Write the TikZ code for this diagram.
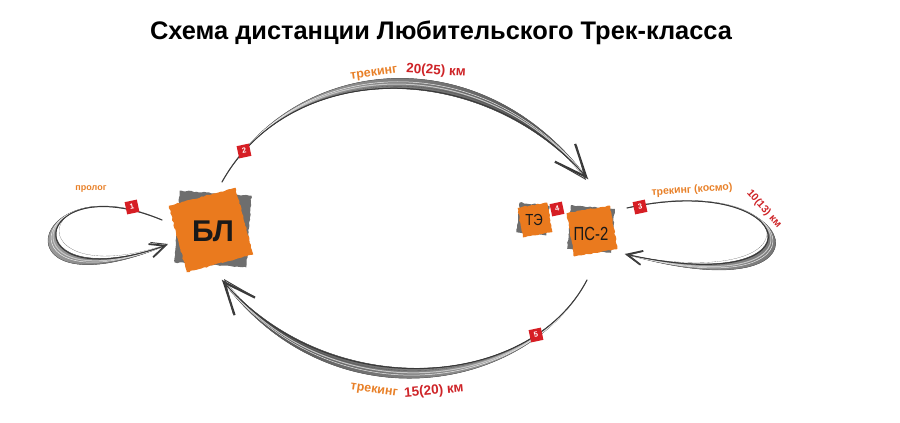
\documentclass[tikz,border=0pt]{standalone}
\usepackage{fontspec}
\setmainfont{Liberation Sans}
\usepackage{xcolor}
\definecolor{orange}{RGB}{234,122,30}
\definecolor{lblorange}{RGB}{232,128,40}
\definecolor{darkred}{RGB}{206,36,40}
\definecolor{pinred}{RGB}{214,30,36}
\definecolor{backgray}{RGB}{110,110,110}
\usepackage{tikz}
\usetikzlibrary{positioning,calc}
\usetikzlibrary{arrows.meta,decorations.pathmorphing}
\tikzset{
  torn/.style    ={ rectangle, inner sep=0pt, decorate,
                    decoration={random steps,segment length=2.5pt,amplitude=0.6pt} },
  paper/.style   ={ torn, fill=orange },
  backing/.style ={ torn, fill=backgray },
  base/.style    ={ font=\fontsize{#1}{#1}\selectfont, text=black!90 },
  pin/.style     ={ rectangle, fill=pinred, text=white, font=\bfseries\fontsize{7.5}{7.5}\selectfont,
                    minimum size=12.5pt, inner sep=0pt, rotate=12 },
  trek/.style    ={ font=\bfseries\fontsize{#1}{#1}\selectfont, text=lblorange },
  dist/.style    ={ font=\bfseries\fontsize{#1}{#1}\selectfont, text=darkred },
%
  body/.style={draw=black!60, line width=0.4pt},
  brB/.style={draw=black!78, line width=1pt, line cap=round},
  brC/.style={draw=black!22, line width=1pt, line cap=round},
  brD/.style={draw=white, line width=0.5pt, opacity=0.85},
  barb/.style={draw=black!75, line width=0.1pt},
%
  bigtip/.style={-{Straight Barb[length=32pt,width=27pt,line width=#1]}},
  smalltip/.style={-{Straight Barb[length=15pt,width=14pt,line width=#1]}}
}
\pgfmathsetseed{7}

\begin{document}
\begin{tikzpicture}[x=1pt,y=-1pt]
\useasboundingbox (0,0) rectangle (900,423);

\node[font=\bfseries\fontsize{25.4}{25.4}\selectfont] (title) at (441,33) {Схема дистанции Любительского Трек-класса};

% checkpoints
\node[backing,minimum size=72pt,rotate=-4] (BLback) at (213,229) {};
\node[paper,  minimum size=69pt,rotate=15] (BLsq)   at (211,230) {};
\node[base=30,font=\bfseries\fontsize{30}{30}\selectfont] (BL) at (213,231) {БЛ};

\node[backing,minimum size=44pt,rotate=-5] (PSback) at (591,229) {};
\node[paper,  minimum size=44pt,rotate=10] (PSsq)   at (592,231) {};
\node[base=19] (PS) at (591,234) {\scalebox{0.78}[1]{ПС-2}};

\node[backing,minimum size=30pt,rotate=-6] (TEback) at (533,219) {};
\node[paper,  minimum size=30pt,rotate=10] (TEsq)   at (535,220) {};
\node[base=16] (TE) at (534,220) {\scalebox{0.82}[1]{ТЭ}};

% arc ends
\coordinate (s1) at (162,220);
\coordinate (e1) at (167,245);
\coordinate (s2) at (222,182);
\coordinate (e2) at (588,179);
\coordinate (s3) at (627,208);
\coordinate (e3) at (625,254);
\coordinate (s5) at (587,280);
\coordinate (e5) at (222,280);

% prolog loop
\fill[body,left color=black!30,right color=black!60]
  (s1) .. controls +(-132,-55) and +(-157,55) .. (e1)
       .. controls +(-175,73) and +(-135,-60) .. (s1) -- cycle;
\draw[brC] (s1) .. controls +(-133,-57) and +(-164,62) .. (e1);
\draw[brD] (s1) .. controls +(-134,-58) and +(-168,66) .. (e1);
\draw[brB,smalltip=1.8pt] (s1) .. controls +(-132,-55) and +(-157,55) .. (e1);
\draw[barb,smalltip=1pt] (s1) .. controls +(-132,-55) and +(-150,50) .. ([shift={(1,-1)}]e1);

% trekking 20(25)
\fill[body,left color=black!30,right color=black!72]
  (s2) .. controls +(68,-122) and +(-108,-123) .. (e2)
       .. controls +(-108,-145) and +(71,-127) .. (s2) -- cycle;
\draw[brC] (s2) .. controls +(69,-124) and +(-108,-133) .. (e2);
\draw[brD] (s2) .. controls +(70,-125) and +(-108,-138) .. (e2);
\draw[brB,bigtip=2.2pt] (s2) .. controls +(68,-122) and +(-108,-123) .. (e2);
\draw[barb,bigtip=1pt]  (s2) .. controls +(68,-122) and +(-100,-130) .. ([shift={(-2,1)}]e2);

% trekking (kosmo)
\fill[body,left color=black!35,right color=black!62]
  (s3) .. controls +(173,-38) and +(205,46) .. (e3)
       .. controls +(222,64) and +(176,-42) .. (s3) -- cycle;
\draw[brC] (s3) .. controls +(174,-40) and +(212,54) .. (e3);
\draw[brD] (s3) .. controls +(175,-41) and +(216,58) .. (e3);
\draw[brB,smalltip=1.8pt] (s3) .. controls +(173,-38) and +(205,46) .. (e3);
\draw[barb,smalltip=1pt]  (s3) .. controls +(173,-38) and +(200,38) .. ([shift={(1,1)}]e3);

% trekking 15(20)
\fill[body,left color=black!72,right color=black!30]
  (s5) .. controls +(-57,110) and +(108,125) .. (e5)
       .. controls +(108,147) and +(-60,114) .. (s5) -- cycle;
\draw[brC] (s5) .. controls +(-58,112) and +(108,135) .. (e5);
\draw[brD] (s5) .. controls +(-59,113) and +(108,140) .. (e5);
\draw[brB,bigtip=2.2pt] (s5) .. controls +(-57,110) and +(108,125) .. (e5);
\draw[barb,bigtip=1pt]  (s5) .. controls +(-57,110) and +(100,132) .. ([shift={(2,-1)}]e5);

% stages
\node[pin] (p1) at (132,207) {1};
\node[pin] (p2) at (244,151) {2};
\node[pin] (p3) at (640,207) {3};
\node[pin] (p4) at (557,209) {4};
\node[pin] (p5) at (536,335) {5};

% labels
\node[trek=9] (prolog) at (91,189) {пролог};
\node[trek=12.5,rotate=8]  (t2) at (374,74) {трекинг};
\node[dist=13.5,rotate=-3] (d2) at (436,71) {20(25) км};
\node[trek=10.5,rotate=4]  (t3) at (692,190) {трекинг (космо)};
\node[dist=10.5,rotate=-48](d3) at (764,209) {10(13) км};
\node[trek=12.5,rotate=-8] (t5) at (374,391) {трекинг};
\node[dist=13.5,rotate=5]  (d5) at (434,391) {15(20) км};

\end{tikzpicture}
\end{document}
